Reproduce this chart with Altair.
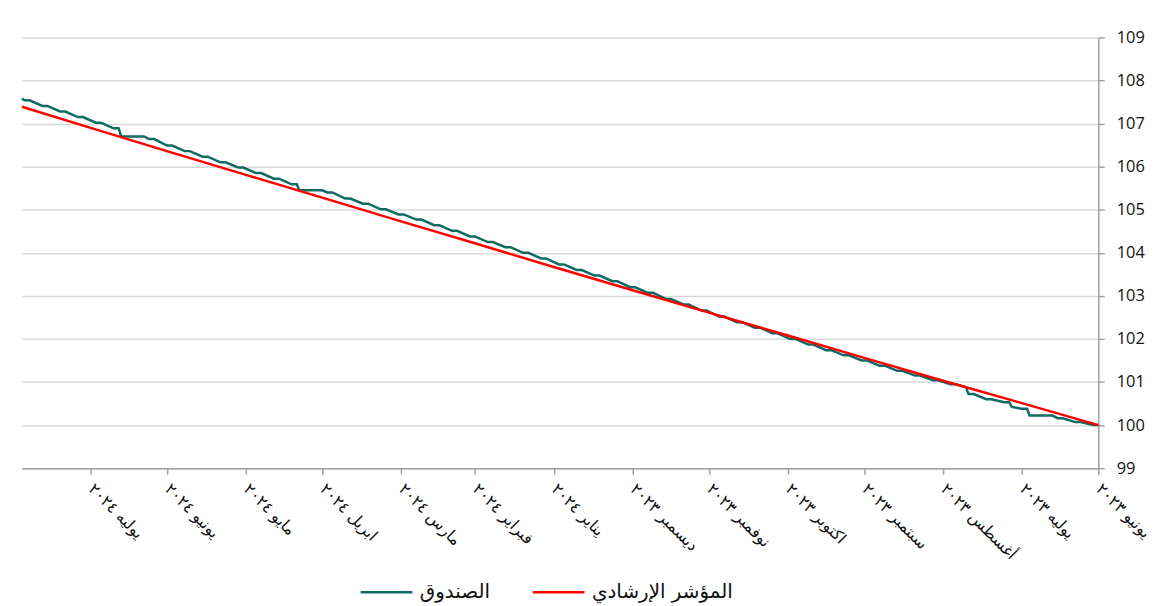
import altair as alt
import pandas as pd

# ---------------- data ----------------
start_date = "2023-06-01"
end_date = "2024-07-28"

fund_name = "الصندوق"
bench_name = "المؤشر الإرشادي"

tick_dates = [
    "2023-06-01", "2023-07-01", "2023-08-01", "2023-09-01", "2023-10-01",
    "2023-11-01", "2023-12-01", "2024-01-01", "2024-02-01", "2024-03-01",
    "2024-04-01", "2024-05-01", "2024-06-01", "2024-07-01",
]
tick_labels = [
    "يونيو ٢٠٢٣", "يوليه ٢٠٢٣", "أغسطس ٢٠٢٣", "سبتمبر ٢٠٢٣", "اكتوبر ٢٠٢٣",
    "نوفمبر ٢٠٢٣", "ديسمبر ٢٠٢٣", "يناير ٢٠٢٤", "فبراير ٢٠٢٤", "مارس ٢٠٢٤",
    "ابريل ٢٠٢٤", "مايو ٢٠٢٤", "يونيو ٢٠٢٤", "يوليه ٢٠٢٤",
]

y_ticks = [99, 100, 101, 102, 103, 104, 105, 106, 107, 108, 109]

# benchmark (red) at month starts and at the last date
bench_dates = tick_dates + [end_date]
bench_values = [100.00, 100.51, 101.03, 101.56, 102.08, 102.61, 103.13, 103.67,
                104.22, 104.73, 105.28, 105.81, 106.36, 106.90, 107.39]

# fund (green): value on each Thursday from 2023-06-01, flat over the weekend
fund_thursday_values = [
    100.00, 100.07, 100.16, 100.22, 100.38, 100.53, 100.60, 100.72, 100.95, 101.04,
    101.15, 101.26, 101.38, 101.50, 101.62, 101.74, 101.87, 102.00, 102.13, 102.26,
    102.39, 102.52, 102.66, 102.80, 102.93, 103.07, 103.20, 103.34, 103.47, 103.60,
    103.73, 103.87, 104.00, 104.13, 104.25, 104.38, 104.51, 104.64, 104.77, 104.89,
    105.01, 105.14, 105.26, 105.40, 105.45, 105.59, 105.72, 105.85, 105.98, 106.10,
    106.23, 106.36, 106.49, 106.64, 106.70, 106.89, 107.02, 107.15, 107.28, 107.41,
    107.54,
]
# extra fund points (holiday flats, jumps, last day)
fund_extra_dates = ["2023-06-19", "2023-06-28", "2023-07-05", "2023-07-23",
                    "2024-04-01", "2024-04-10", "2024-06-10", "2024-06-19", "2024-07-28"]
fund_extra_values = [100.22, 100.22, 100.42, 100.88,
                     105.45, 105.45, 106.70, 106.70, 107.58]

GREEN = "#0d6b62"
RED = "#ff0000"

# ---------------- tables ----------------
t0 = pd.Timestamp(start_date)
rows = []
for i, v in enumerate(fund_thursday_values):
    d = t0 + pd.Timedelta(days=7 * i)
    rows.append((d, v))
    rows.append((d + pd.Timedelta(days=2), v))
for ds, v in zip(fund_extra_dates, fund_extra_values):
    rows.append((pd.Timestamp(ds), v))
fund_df = pd.DataFrame(rows, columns=["date", "value"]).sort_values("date", kind="stable")
fund_df["date"] = fund_df["date"].dt.strftime("%Y-%m-%d")
fund_df["series"] = fund_name

bench_df = pd.DataFrame({"date": bench_dates, "value": bench_values, "series": bench_name})


def ms(s):
    return int(pd.Timestamp(s, tz="UTC").timestamp() * 1000)


labels_js = "[" + ",".join("'" + s + "'" for s in tick_labels) + "]"
label_expr = labels_js + "[(utcyear(datum.value)-2023)*12+utcmonth(datum.value)-5]"

x_enc = alt.X(
    "date:T",
    scale=alt.Scale(type="utc", domain=[ms(start_date), ms(end_date)], reverse=True),
    axis=alt.Axis(
        values=[ms(t) for t in tick_dates],
        labelExpr=label_expr,
        labelAngle=45,
        labelAlign="left",
        labelBaseline="middle",
        labelFont="DejaVu Sans",
        labelFontSize=16,
        labelColor="#111111",
        labelPadding=12,
        labelOverlap=False,
        labelBound=False,
        grid=False,
        domainColor="#a0a0a0",
        domainWidth=1.5,
        tickColor="#a0a0a0",
        tickWidth=1.5,
        tickSize=6,
        title=None,
    ),
)
y_enc = alt.Y(
    "value:Q",
    scale=alt.Scale(domain=[99, 109], nice=False, zero=False),
    axis=alt.Axis(
        orient="right",
        values=y_ticks,
        labelFont="Open Sans",
        labelFontSize=16.5,
        labelColor="#111111",
        labelPadding=12,
        grid=True,
        gridColor="#d9d9d9",
        gridWidth=1.5,
        domainColor="#a0a0a0",
        domainWidth=1.5,
        tickColor="#a0a0a0",
        tickWidth=1.5,
        tickSize=6,
        title=None,
    ),
)
color_enc = alt.Color(
    "series:N",
    scale=alt.Scale(domain=[fund_name, bench_name], range=[GREEN, RED]),
    legend=alt.Legend(
        orient="none",
        legendX=339,
        legendY=530,
        direction="horizontal",
        title=None,
        symbolType="stroke",
        symbolSize=2700,
        symbolStrokeWidth=2.5,
        labelFont="DejaVu Sans",
        labelFontSize=20,
        labelColor="#111111",
        labelOffset=6,
        columnPadding=37,
        padding=0,
    ),
)

fund_line = alt.Chart(fund_df).mark_line(strokeWidth=2.5).encode(x=x_enc, y=y_enc, color=color_enc)
bench_line = alt.Chart(bench_df).mark_line(strokeWidth=2.5).encode(x=x_enc, y=y_enc, color=color_enc)

chart = (
    alt.layer(fund_line, bench_line)
    .properties(
        width=1082,
        height=433,
        padding={"left": 14, "top": 28, "right": 60, "bottom": 137},
        autosize=alt.AutoSizeParams(type="none"),
        background="white",
    )
    .configure_view(stroke=None)
)

chart.save("out.html", embed_options={"renderer": "svg", "actions": False})
